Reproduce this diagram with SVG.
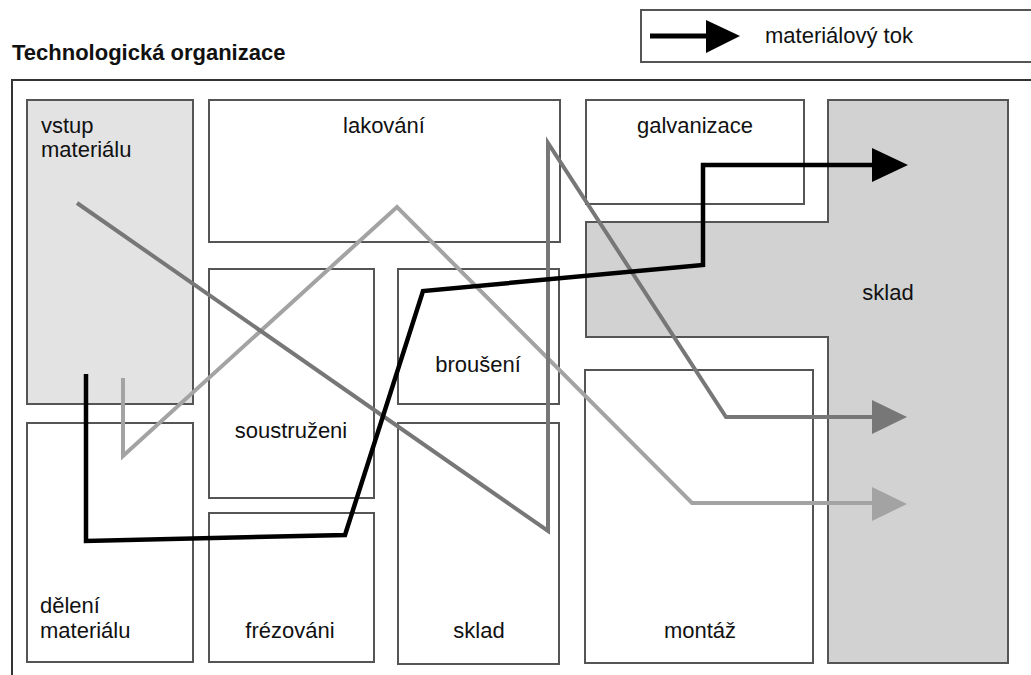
<svg xmlns="http://www.w3.org/2000/svg" width="1031" height="675" viewBox="0 0 1031 675">
<style>
.box{fill:#fff;stroke:#555;stroke-width:2}
.shade{fill:#e3e3e3}
.store{fill:#d2d2d2}
.t{font-family:"Liberation Sans",Arial,sans-serif;font-size:22px;fill:#111}
.c{text-anchor:middle}
.title{font-family:"Liberation Sans",Arial,sans-serif;font-size:22px;font-weight:bold;fill:#111}
.flow{fill:none;stroke-linejoin:miter}
.blk{stroke:#000;stroke-width:4.5}
.dg{stroke:#777;stroke-width:4}
.lg{stroke:#a3a3a3;stroke-width:4}
</style>
<rect width="1031" height="675" fill="#fff"/>
<text class="title" x="12" y="60">Technologická organizace</text>
<g id="legend">
<rect x="641" y="10" width="400" height="52" fill="#fff" stroke="#555" stroke-width="2"/>
<line x1="650" y1="36" x2="708" y2="36" stroke="#000" stroke-width="5"/>
<polygon points="706,20 740,36 706,53" fill="#000"/>
<text class="t" x="765" y="43">materiálový tok</text>
</g>
<path d="M12 675 V80 H1040" fill="none" stroke="#333" stroke-width="2"/>
<g id="vstup"><rect class="box shade" x="27" y="100" width="166" height="304"/><text class="t" x="41" y="133">vstup</text><text class="t" x="41" y="157">materiálu</text></g>
<g id="lakovani"><rect class="box" x="209" y="100" width="351" height="142"/><text class="t c" x="384" y="133">lakování</text></g>
<g id="galvanizace"><rect class="box" x="586" y="100" width="218" height="104"/><text class="t c" x="695" y="133">galvanizace</text></g>
<g id="sklad-velky"><polygon class="box store" points="828,100 1008,100 1008,663 828,663 828,337 586,337 586,222 828,222"/><text class="t c" x="888" y="300">sklad</text></g>
<g id="soustruzeni"><rect class="box" x="209" y="269" width="165" height="229"/><text class="t c" x="291" y="438">soustruženi</text></g>
<g id="brouseni"><rect class="box" x="398" y="269" width="161" height="135"/><text class="t c" x="478" y="372">broušení</text></g>
<g id="deleni"><rect class="box" x="27" y="423" width="166" height="239"/><text class="t" x="40" y="613">dělení</text><text class="t" x="40" y="638">materiálu</text></g>
<g id="frezovani"><rect class="box" x="209" y="513" width="165" height="149"/><text class="t c" x="290" y="638">frézováni</text></g>
<g id="sklad-maly"><rect class="box" x="398" y="423" width="161" height="241"/><text class="t c" x="479" y="638">sklad</text></g>
<g id="montaz"><rect class="box" x="585" y="370" width="228" height="293"/><text class="t c" x="700" y="638">montáž</text></g>
<g id="connectors">
<polyline class="flow lg" points="123,378 123,456 397,207 692,503 874,503"/>
<polygon points="872,487 907,504 872,521" fill="#a3a3a3"/>
<polyline class="flow dg" points="77,203 548,531 548,143 726,417 874,417"/>
<polygon points="872,400 907,417 872,434" fill="#777"/>
<polyline class="flow blk" points="86,374 86,541 345,535 423,291 703,265 703,165 875,165"/>
<polygon points="872,148 908,165 872,182" fill="#000"/>
</g>
</svg>
